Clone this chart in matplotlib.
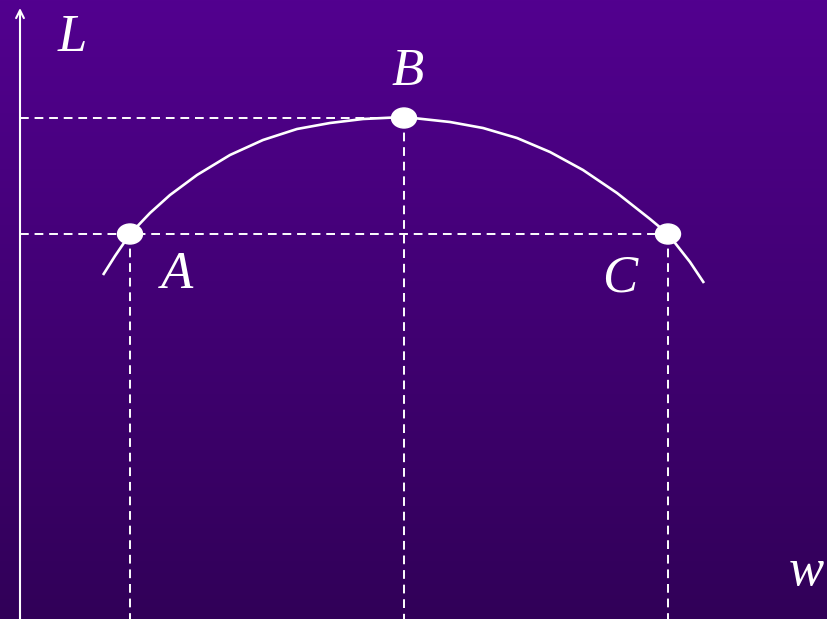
import numpy as np
import matplotlib.pyplot as plt
from matplotlib.patches import Ellipse

# Curve (pixel-like units, y grows downward)
curve_w = [103, 115, 130, 150, 170, 197, 230, 263, 297, 330, 363, 404,
           450, 483, 517, 550, 583, 617, 650, 668, 690, 704]
curve_L = [275, 256, 234, 213, 195, 175, 155, 140, 129, 123, 119, 117,
           122, 128, 138, 152, 170, 193, 219, 234, 262, 283]

# Marked points A, B, C
point_names = ["A", "B", "C"]
point_w = [130, 404, 668]
point_L = [234, 118, 234]
label_pos = [(177, 275), (408, 72), (620, 278)]

W, H = 827, 619
axis_x = 20
axis_y = 617

fig = plt.figure(figsize=(8.27, 6.19), dpi=100)
ax = fig.add_axes([0, 0, 1, 1])
ax.set_xlim(0, W)
ax.set_ylim(H, 0)
ax.axis("off")

# purple vertical gradient background
top = np.array([82, 0, 143]) / 255
bottom = np.array([49, 0, 88]) / 255
t = np.linspace(0, 1, 256)[:, None]
grad = top + (bottom - top) * t
ax.imshow(grad[:, None, :], extent=[0, W, H, 0], aspect="auto", zorder=0)

# axes with arrows
ax.annotate("", xy=(axis_x, 8), xytext=(axis_x, H + 2),
            arrowprops=dict(arrowstyle="->", color="white", lw=1.5,
                            mutation_scale=14, shrinkA=0, shrinkB=0))
ax.annotate("", xy=(W + 1, axis_y), xytext=(axis_x, axis_y),
            arrowprops=dict(arrowstyle="->", color="white", lw=1.5,
                            mutation_scale=14, shrinkA=0, shrinkB=0))

dash = dict(color="white", lw=1.4, dashes=(4.5, 3.0), zorder=2)
# horizontal guides
ax.plot([axis_x, point_w[1]], [point_L[1], point_L[1]], **dash)
ax.plot([axis_x, point_w[2]], [point_L[2], point_L[2]], **dash)
# vertical guides
for x, y in zip(point_w, point_L):
    ax.plot([x, x], [y, H], **dash)

ax.plot(curve_w, curve_L, color="white", lw=1.9, zorder=3,
        solid_capstyle="butt", solid_joinstyle="round")

for x, y in zip(point_w, point_L):
    ax.add_patch(Ellipse((x, y), 25, 20, color="white", zorder=4))

font = dict(family="Liberation Serif", style="italic", color="white",
            fontsize=38, ha="center", va="center")
for name, (x, y) in zip(point_names, label_pos):
    ax.text(x, y, name, **font)
ax.text(72, 38, "L", **font)
ax.text(806, 572, "w", **font)

fig.savefig("out.png", dpi=100)
